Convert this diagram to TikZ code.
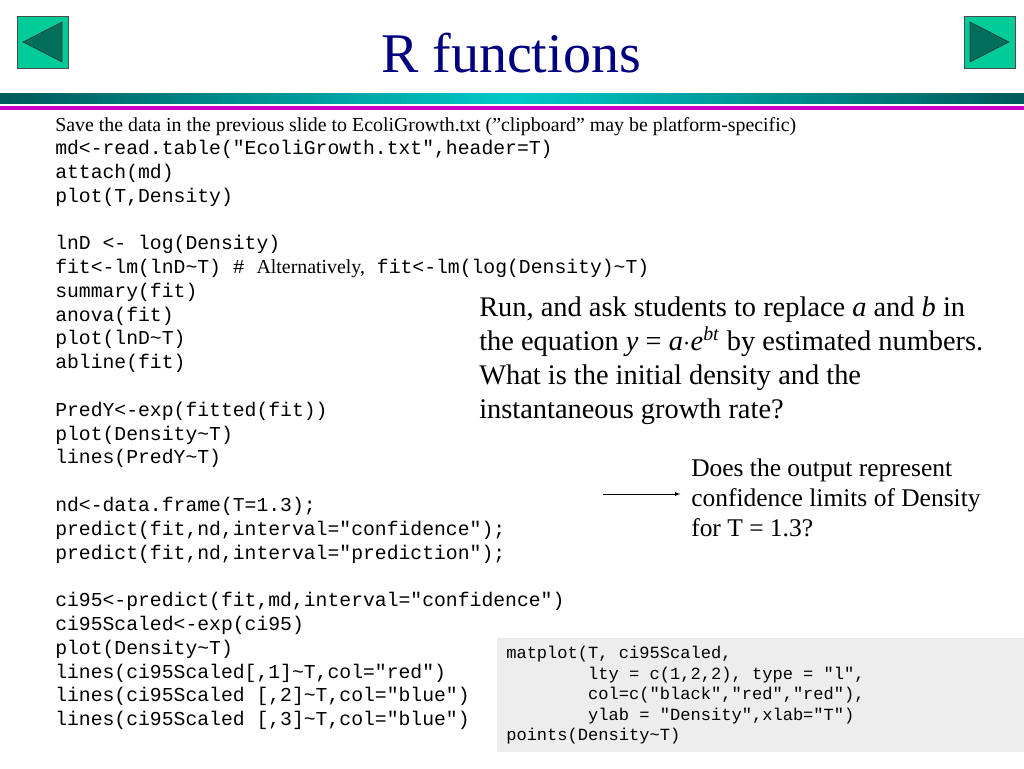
\documentclass[tikz,border=0pt]{standalone}
\usepackage{fontspec}
\setmainfont{Liberation Serif}
\setmonofont{Liberation Mono}
\definecolor{btngreen}{RGB}{0,204,153}
\definecolor{tridark}{RGB}{0,110,90}
\definecolor{navy}{RGB}{0,0,128}
\definecolor{tealdark}{RGB}{0,90,90}
\definecolor{tealbright}{RGB}{0,200,200}
\definecolor{magentabar}{RGB}{200,0,200}
\newcommand{\qq}{{\char34}}
\begin{document}
\begin{tikzpicture}[x=0.75pt,y=-0.75pt,
  btn/.style={draw=black!70,fill=btngreen},
  tri/.style={draw=black!80,fill=tridark},
  code/.style={anchor=north west,align=left,inner sep=0pt,font=\ttfamily\fontsize{14.8pt}{17.85pt}\selectfont},
  txt/.style={anchor=base west,inner sep=0pt}]
\useasboundingbox (0,0) rectangle (1024,768);
% buttons
\draw[btn] (17,16) rectangle (68,68);
\draw[tri] (62,22) -- (62,62) -- (23,42) -- cycle;
\draw[btn] (964,16) rectangle (1015,68);
\draw[tri] (970,22) -- (970,62) -- (1009,42) -- cycle;
\node[txt,anchor=base,font=\fontsize{42pt}{42pt}\selectfont,text=navy] (title) at (511,72) {R functions};
% bars
\shade[left color=tealdark,right color=tealbright] (0,93) rectangle (512,103);
\shade[left color=tealbright,right color=tealdark] (512,93) rectangle (1024,103);
\fill[magentabar] (0,105.5) rectangle (1024,110);
% top text
\node[txt,font=\fontsize{14.9pt}{16pt}\selectfont] (save) at (55,131) {Save the data in the previous slide to EcoliGrowth.txt (\qq clipboard\qq{} may be platform-specific)};
\node[code] (code) at (55,140) {md<-read.table("EcoliGrowth.txt",header=T)\\
attach(md)\\
plot(T,Density)\\
\mbox{}\\
lnD <- log(Density)\\
fit<-lm(lnD\textasciitilde T) \# {\rmfamily\fontsize{14.9pt}{16pt}\selectfont Alternatively,} fit<-lm(log(Density)\textasciitilde T)\\
summary(fit)\\
anova(fit)\\
plot(lnD\textasciitilde T)\\
abline(fit)\\
\mbox{}\\
PredY<-exp(fitted(fit))\\
plot(Density\textasciitilde T)\\
lines(PredY\textasciitilde T)\\
\mbox{}\\
nd<-data.frame(T=1.3);\\
predict(fit,nd,interval="confidence");\\
predict(fit,nd,interval="prediction");\\
\mbox{}\\
ci95<-predict(fit,md,interval="confidence")\\
ci95Scaled<-exp(ci95)\\
plot(Density\textasciitilde T)\\
lines(ci95Scaled[,1]\textasciitilde T,col="red")\\
lines(ci95Scaled [,2]\textasciitilde T,col="blue")\\
lines(ci95Scaled [,3]\textasciitilde T,col="blue")};
% right text
\node[txt,anchor=north west,align=left,font=\fontsize{21.3pt}{25.5pt}\selectfont] (run) at (479,297) {Run, and ask students to replace \textit{a} and \textit{b} in\\
the equation \textit{y} = \textit{a}$\cdot$\textit{e}\textsuperscript{\textit{bt}} by estimated numbers.\\
What is the initial density and the\\
instantaneous growth rate?};
\node[txt,anchor=north west,align=left,font=\fontsize{19.1pt}{22.5pt}\selectfont] (does) at (691,459) {Does the output represent\\
confidence limits of Density\\
for T = 1.3?};
\coordinate (a0) at (603,494);
\draw[-latex] (a0) -- ([xshift=-8pt]does.west|-a0);
% gray box
\fill[black!7] (497,638) rectangle (1024,752);
\node[code,font=\ttfamily\fontsize{12.8pt}{15.4pt}\selectfont] (mat) at (506,646) {matplot(T, ci95Scaled,\\
\phantom{xxxxxxxx}lty = c(1,2,2), type = "l",\\
\phantom{xxxxxxxx}col=c("black","red","red"),\\
\phantom{xxxxxxxx}ylab = "Density",xlab="T")\\
points(Density\textasciitilde T)};
\end{tikzpicture}
\end{document}
